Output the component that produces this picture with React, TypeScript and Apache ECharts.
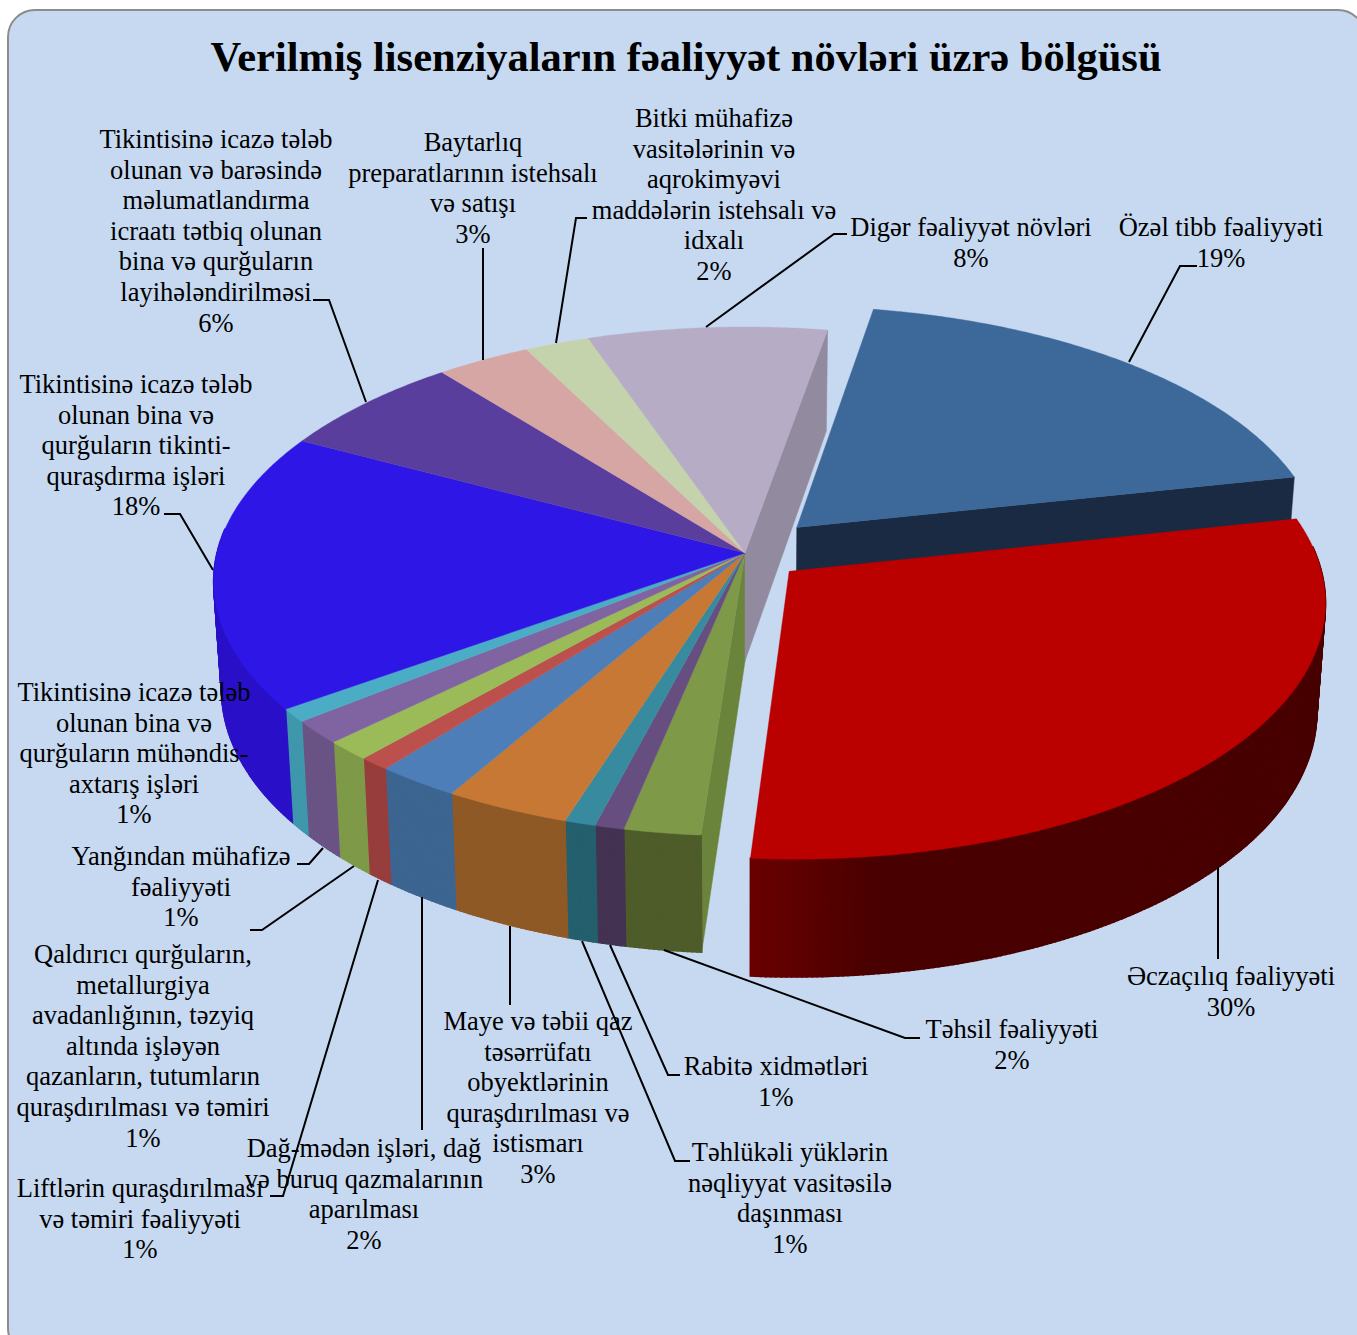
import React, { useEffect, useRef } from "react";
import * as echarts from "echarts";

const titleText = "Verilmiş lisenziyaların fəaliyyət növləri üzrə bölgüsü";
const categories = [
  "Özəl tibb fəaliyyəti",
  "Əczaçılıq fəaliyyəti",
  "Təhsil fəaliyyəti",
  "Rabitə xidmətləri",
  "Təhlükəli yüklərin\nnəqliyyat vasitəsilə\ndaşınması",
  "Maye və təbii qaz\ntəsərrüfatı\nobyektlərinin\nquraşdırılması və\nistismarı",
  "Dağ-mədən işləri, dağ\nvə buruq qazmalarının\naparılması",
  "Liftlərin quraşdırılması\nvə təmiri fəaliyyəti",
  "Qaldırıcı qurğuların,\nmetallurgiya\navadanlığının, təzyiq\naltında işləyən\nqazanların, tutumların\nquraşdırılması və təmiri",
  "Yanğından mühafizə\nfəaliyyəti",
  "Tikintisinə icazə tələb\nolunan bina və\nqurğuların mühəndis-\naxtarış işləri",
  "Tikintisinə icazə tələb\nolunan bina və\nqurğuların tikinti-\nquraşdırma işləri",
  "Tikintisinə icazə tələb\nolunan və barəsində\nməlumatlandırma\nicraatı tətbiq olunan\nbina və qurğuların\nlayihələndirilməsi",
  "Baytarlıq\npreparatlarının istehsalı\nvə satışı",
  "Bitki mühafizə\nvasitələrinin və\naqrokimyəvi\nmaddələrin istehsalı və\nidxalı",
  "Digər fəaliyyət növləri",
];
// share of each slice
const values = [18.85, 29.55, 2.1, 0.8, 0.85, 3.45, 2.3, 0.85, 1.25, 1.5, 0.85, 17.65, 6.5, 3.2, 2.2, 8.1];
// percentage printed in each label
const percents = [19, 30, 2, 1, 1, 3, 2, 1, 1, 1, 1, 18, 6, 3, 2, 8];
const explode = [0.143, 0.11, 0, 0, 0, 0, 0, 0, 0, 0, 0, 0, 0, 0, 0, 0];
const topColors = ["#3d689a", "#bb0000", "#7e9947", "#664f80", "#388a9f", "#c77835", "#4d7eb7", "#bc504d", "#9bbb59", "#8064a1", "#4bacc6", "#2e16e6", "#5a3e9e", "#d6a6a5", "#c4d3ab", "#b6acc6"];
const wallColors = ["#1a2a42", "#4a0000", "#4e5c2a", "#443252", "#245f6e", "#8f5926", "#3c6591", "#973e3c", "#7e9a48", "#6a5385", "#3f97ac", "#2a10c8", "#46307c", "#a88282", "#9aa686", "#928a9f"];

const startAngle = 10;
const CX = 745, CY = 553, R = 528, H = 251.3, K = 0.1119;
const LINE = 30.6;
const FONT = "Liberation Serif";

// label block: centre x, centre y of first line
const labelPos: [number, number][] = [
  [1221, 227], [1231, 976], [1012, 1029], [776, 1066], [790, 1152], [538, 1021], [364, 1148], [140, 1188],
  [143, 954], [181, 856], [134, 692], [136, 384], [216, 139], [473, 142], [714, 118], [971, 227],
];
const leaders: number[][][] = [
  [[1197, 266], [1180, 266], [1129, 362]],
  [[1218, 867], [1218, 959]],
  [[920, 1038], [905, 1038], [664, 950]],
  [[680, 1075], [668, 1075], [610, 945]],
  [[690, 1161], [675, 1161], [582, 941]],
  [[510, 1005], [510, 926]],
  [[422, 1130], [422, 897]],
  [[270, 1196], [283, 1196], [378, 880]],
  [[250, 930], [262, 930], [354, 866]],
  [[297, 864], [309, 864], [323, 848]],
  [[164, 514], [180, 514], [213, 570]],
  [[313, 300], [329, 300], [366, 402]],
  [[483, 248], [483, 360]],
  [[587, 218], [576, 218], [556, 343]],
  [[847, 234], [834, 234], [706, 327]],
];

const total = values.reduce((a, b) => a + b, 0);
const starts: number[] = [];
values.reduce((acc, v, i) => {
  starts[i] = acc;
  return acc + (v / total) * 360;
}, startAngle);

function project(u: number, v: number): number[] {
  const w = 1 - K * v;
  return [CX + (R * u) / w, CY + (H * v) / w];
}
function lower(p: number[]): number[] {
  return [CX + (p[0] - CX) * 0.985, CY + (p[1] - CY) * 1.032 + 108];
}
// the large red wall is a little lighter at its left end
function redWall(x: number): string {
  const t = Math.min(1, Math.max(0, (x - 750) / 130));
  return `rgb(${Math.round(106 - 34 * t)},0,0)`;
}

function renderSlice(params: any, api: any) {
  const i = params.dataIndex;
  const sweep = (api.value(0) / total) * 360;
  const a0 = starts[i];
  const a1 = a0 + sweep;
  const mid = ((a0 + a1) / 2) * (Math.PI / 180);
  const ou = Math.sin(mid) * explode[i];
  const ov = -Math.cos(mid) * explode[i];
  const apex = project(ou, ov);
  const rim: number[][] = [];
  const steps = Math.max(4, Math.ceil(sweep * 2));
  const angleAt = (s: number) => (a0 + (sweep * s) / steps) * (Math.PI / 180);
  for (let s = 0; s <= steps; s++) {
    const t = angleAt(s);
    rim.push(project(ou + Math.sin(t), ov - Math.cos(t)));
  }
  const layer = i === 0 ? 3 : i === 1 ? 5 : 1;
  const children: any[] = [];
  // radial end faces that are visible in the picture
  const side = (p: number[], color: string) => ({
    type: "polygon",
    z2: layer,
    shape: { points: [apex, p, lower(p), lower(apex)] },
    style: { fill: color, stroke: color, lineWidth: 0.5 },
  });
  if (i === 0) children.push(side(rim[rim.length - 1], wallColors[0]));
  if (i === 2) children.push(side(rim[0], "#6b843b"));
  if (i === values.length - 1) children.push(side(rim[rim.length - 1], wallColors[i]));
  for (let s = 0; s < steps; s++) {
    // only the part of the rim that faces the viewer has a visible wall
    if (Math.cos(angleAt(s + 0.5)) > 0.1) continue;
    const p = rim[s];
    const q = rim[s + 1];
    const color = i === 1 ? redWall((p[0] + q[0]) / 2) : wallColors[i];
    children.push({
      type: "polygon",
      z2: layer,
      shape: { points: [p, q, lower(q), lower(p)] },
      style: { fill: color, stroke: color, lineWidth: 1.6 },
    });
  }
  children.push({
    type: "polygon",
    z2: layer + 1,
    shape: { points: [apex, ...rim] },
    style: { fill: topColors[i], stroke: topColors[i], lineWidth: 0.4 },
  });
  return { type: "group", children };
}

export default function App() {
  const ref = useRef<HTMLDivElement>(null);
  useEffect(() => {
    const chart = echarts.init(ref.current!, undefined, { renderer: "svg" });
    const labelEls = categories.map((c, i) => ({
      type: "text",
      z: 20,
      style: {
        text: c + "\n" + percents[i] + "%",
        x: labelPos[i][0],
        y: labelPos[i][1] - LINE / 2,
        align: "center",
        verticalAlign: "top",
        font: `26.5px "${FONT}"`,
        lineHeight: LINE,
        fill: "#000",
      },
    }));
    const leaderEls = leaders.map((pts) => ({
      type: "polyline",
      z: 19,
      shape: { points: pts },
      style: { stroke: "#000", lineWidth: 2, fill: "none" },
    }));
    chart.setOption({
      animation: false,
      graphic: {
        elements: [
          {
            type: "rect",
            z: 0,
            shape: { x: 8, y: 10, width: 1357, height: 1345, r: 27 },
            style: { fill: "#c6d9f1", stroke: "#8c8c8c", lineWidth: 2 },
          },
          {
            type: "text",
            z: 20,
            style: {
              text: titleText,
              x: 686,
              y: 56,
              align: "center",
              verticalAlign: "middle",
              font: `bold 42.5px "${FONT}"`,
              fill: "#000",
            },
          },
          ...leaderEls,
          ...labelEls,
        ],
      },
      series: [
        {
          type: "custom",
          coordinateSystem: "none",
          z: 5,
          renderItem: renderSlice,
          data: values.map((v, i) => ({ name: categories[i], value: [v] })),
        },
      ],
    });
    return () => chart.dispose();
  }, []);
  return <div ref={ref} style={{ position: "absolute", left: 0, top: 0, width: 1357, height: 1335, background: "#fff" }} />;
}
